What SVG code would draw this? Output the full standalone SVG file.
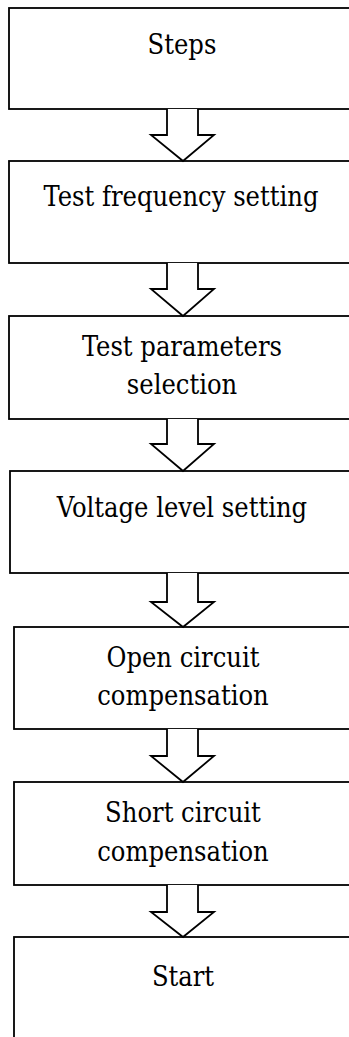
<svg xmlns="http://www.w3.org/2000/svg" width="349" height="1037" viewBox="0 0 349 1037">
<style>
.box{fill:#fff;stroke:#000;stroke-width:1.8}
.arr{fill:#fff;stroke:#000;stroke-width:1.8;stroke-linejoin:miter}
.t{font-family:"DejaVu Serif Condensed","DejaVu Serif","Liberation Serif",serif;font-stretch:condensed;font-size:27px;fill:#000;text-anchor:middle}
</style>
<rect width="349" height="1037" fill="#fff"/>
<g id="n1"><rect class="box" x="9" y="8" width="360" height="101"/><text class="t" x="182" y="54">Steps</text></g>
<g id="n2"><rect class="box" x="9" y="161" width="360" height="102"/><text class="t" x="181" y="206">Test frequency setting</text></g>
<g id="n3"><rect class="box" x="9" y="316" width="360" height="103"/><text class="t" x="182" y="356">Test parameters</text><text class="t" x="182" y="394">selection</text></g>
<g id="n4"><rect class="box" x="10" y="471" width="360" height="102"/><text class="t" x="182" y="517">Voltage level setting</text></g>
<g id="n5"><rect class="box" x="14" y="627" width="360" height="102"/><text class="t" x="183" y="667">Open circuit</text><text class="t" x="183" y="705">compensation</text></g>
<g id="n6"><rect class="box" x="14" y="782" width="360" height="103"/><text class="t" x="183" y="822">Short circuit</text><text class="t" x="183" y="861">compensation</text></g>
<g id="n7"><rect class="box" x="14" y="937" width="360" height="120"/><text class="t" x="183" y="986">Start</text></g>
<g id="connectors">
<path class="arr" d="M167,109 V135 H151 L183,161 L214,135 H198 V109"/>
<path class="arr" d="M167,263 V289 H151 L183,316 L214,289 H198 V263"/>
<path class="arr" d="M167,419 V444 H151 L183,471 L214,444 H198 V419"/>
<path class="arr" d="M167,573 V602 H151 L183,627 L214,602 H198 V573"/>
<path class="arr" d="M167,729 V756 H151 L183,782 L214,756 H198 V729"/>
<path class="arr" d="M167,885 V912 H151 L183,937 L214,912 H198 V885"/>
</g>
</svg>
